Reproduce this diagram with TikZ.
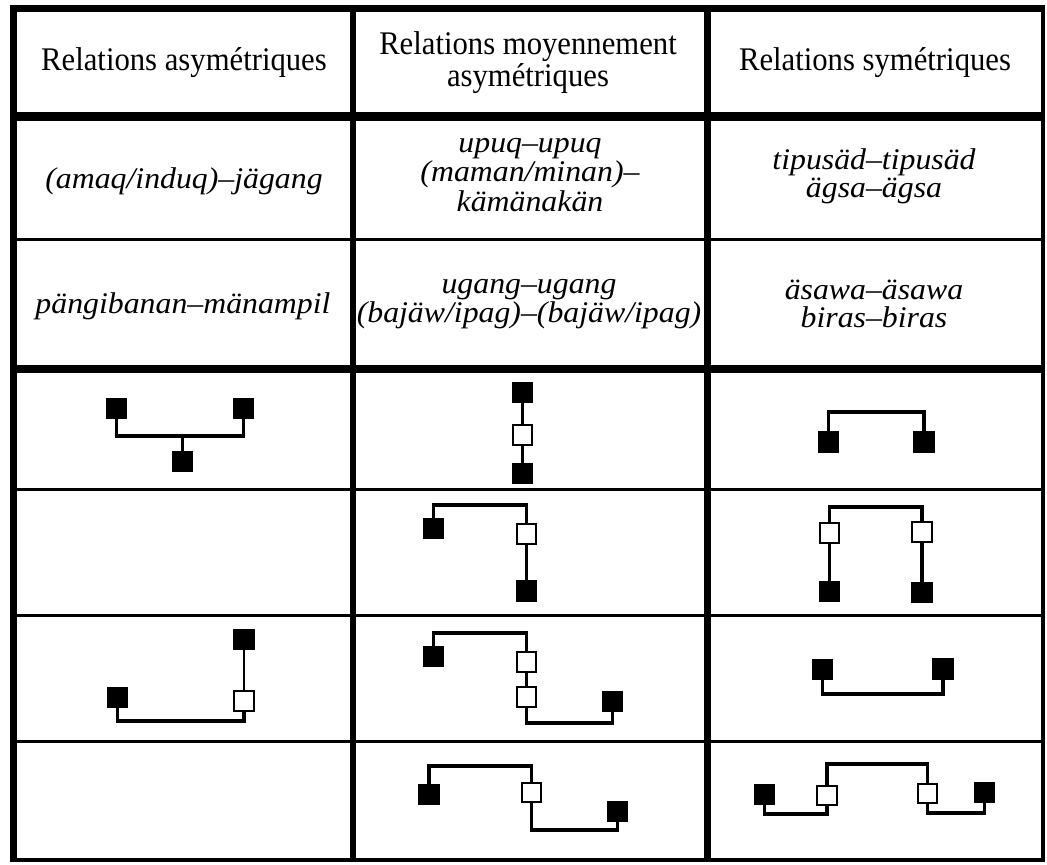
\documentclass[tikz,border=0pt]{standalone}
\usepackage{fontspec}
\setmainfont{Liberation Serif}
\newfontfamily\headfont{Liberation Serif}[FakeStretch=0.93]
\newfontfamily\termfont{Liberation Serif}[FakeStretch=1.06]
\begin{document}
\begin{tikzpicture}[x=0.5pt,y=-0.5pt,
  sq/.style={draw=black, line width=0.9pt, minimum size=9.8pt, inner sep=0pt, outer sep=0pt},
  blk/.style={sq, fill=black},
  opn/.style={sq, fill=white},
  link/.style={line width=1.9pt, line join=miter},
  rule/.style={line width=1.5pt},
  heavy/.style={line width=4.2pt},
  frame/.style={line width=3.5pt},
  head/.style={align=center, inner sep=0pt, font=\headfont\fontsize{16.5pt}{15pt}\selectfont},
  term/.style={align=center, inner sep=0pt, font=\termfont\itshape\fontsize{15pt}{12pt}\selectfont},
  termb/.style={term, font=\termfont\itshape\fontsize{15pt}{13pt}\selectfont},
]
\useasboundingbox (0,0) rectangle (1047,865);
\fill[white] (0,0) rectangle (1047,865);

% table rules
\draw[frame] (13.5,5) -- (13.5,862);
\draw[line width=3pt] (353,5) -- (353,862);
\draw[frame] (707,5) -- (707,862);
\draw[line width=2pt] (1043,5) -- (1043,862);
\draw[frame] (10,9) -- (1044,9);
\draw[line width=4.5pt] (10,117) -- (1044,117);
\draw[rule] (10,240) -- (1044,240);
\draw[heavy] (10,369) -- (1044,369);
\draw[rule] (10,489) -- (1044,489);
\draw[rule] (10,615) -- (1044,615);
\draw[rule] (10,741) -- (1044,741);
\draw[line width=2pt] (10,860) -- (1044,860);

% column headings
\node[head] (h1) at (184,63) {Relations asymétriques};
\node[head] (h2) at (528,63) {Relations moyennement\\asymétriques};
\node[head] (h3) at (875,63) {Relations symétriques};

% kinship terms
\node[term] (t11) at (184,181) {(amaq/induq)–jägang};
\node[term] (t12) at (530,175) {upuq–upuq\\(maman/minan)–\\kämänakän};
\node[term, font=\termfont\itshape\fontsize{15pt}{11.5pt}\selectfont] (t13) at (874,176) {tipusäd–tipusäd\\ägsa–ägsa};
\node[termb] (t21) at (183,306) {pängibanan–mänampil};
\node[termb] (t22) at (529,304) {ugang–ugang\\(bajäw/ipag)–(bajäw/ipag)};
\node[termb, font=\termfont\itshape\fontsize{15pt}{14pt}\selectfont] (t23) at (874,304) {äsawa–äsawa\\biras–biras};

% row 4, column 1
\node[blk] (A1) at (116.5,408.5) {};
\node[blk] (A2) at (243.5,408.5) {};
\node[blk] (A3) at (182.5,461.5) {};
\coordinate (abar) at (182.5,436);
\draw[link] (A1.south) |- (abar) -| (A2.south);
\draw[link] (abar) -- (A3.north);

% row 6, column 1
\node[blk] (B1) at (244,639.5) {};
\node[opn] (B2) at (244,701) {};
\node[blk] (B3) at (117.5,697.5) {};
\coordinate (bbar) at (180,721);
\draw[line width=1.3pt] (B1.south) -- (B2.north);
\draw[link] (B2.south) |- (bbar) -| (B3.south);

% row 4, column 2
\node[blk] (C1) at (522.5,392.5) {};
\node[opn] (C2) at (522.5,435) {};
\node[blk] (C3) at (522.5,473.5) {};
\draw[link] (C1.south) -- (C2.north);
\draw[link] (C2.south) -- (C3.north);

% row 5, column 2
\node[blk] (D1) at (433.5,528.5) {};
\node[opn] (D2) at (526.5,534) {};
\node[blk] (D3) at (526.5,591) {};
\coordinate (dbar) at (480,505);
\draw[link] (D1.north) |- (dbar) -| (D2.north);
\draw[link] (D2.south) -- (D3.north);

% row 6, column 2
\node[blk] (E1) at (433.5,656.5) {};
\node[opn] (E2) at (526.5,662) {};
\node[opn] (E3) at (526.5,697) {};
\node[blk] (E4) at (612.5,701.5) {};
\coordinate (etop) at (480,633);
\coordinate (ebot) at (570,723);
\draw[link] (E1.north) |- (etop) -| (E2.north);
\draw[link] (E2.south) -- (E3.north);
\draw[link] (E3.south) |- (ebot) -| (E4.south);

% row 7, column 2
\node[blk] (F1) at (429,794.5) {};
\node[opn] (F2) at (531.5,792.5) {};
\node[blk] (F3) at (617.5,811.5) {};
\coordinate (ftop) at (480,766);
\coordinate (fbot) at (575,830);
\draw[link] (F1.north) |- (ftop) -| (F2.north);
\draw[link] (F2.south) |- (fbot) -| (F3.south);

% row 4, column 3
\node[blk] (G1) at (828.5,442) {};
\node[blk] (G2) at (924,442) {};
\coordinate (gbar) at (876,412);
\draw[link] (G1.north) |- (gbar) -| (G2.north);

% row 5, column 3
\node[opn] (H1) at (829.5,533) {};
\node[opn] (H2) at (922,532) {};
\node[blk] (H3) at (829.5,591.5) {};
\node[blk] (H4) at (922,592.5) {};
\coordinate (hbar) at (876,507);
\draw[link] (H1.north) |- (hbar) -| (H2.north);
\draw[link] (H1.south) -- (H3.north);
\draw[link] (H2.south) -- (H4.north);

% row 6, column 3
\node[blk] (I1) at (822.5,669.5) {};
\node[blk] (I2) at (943,669) {};
\coordinate (ibar) at (883,694);
\draw[link] (I1.south) |- (ibar) -| (I2.south);

% row 7, column 3
\node[blk] (J1) at (764.5,794.5) {};
\node[opn] (J2) at (827,795.5) {};
\node[opn] (J3) at (927.5,793.5) {};
\node[blk] (J4) at (984.5,792.5) {};
\coordinate (jbl) at (796,814);
\coordinate (jtop) at (877,764);
\coordinate (jbr) at (956,813);
\draw[link] (J1.south) |- (jbl) -| (J2.south);
\draw[link] (J2.north) |- (jtop) -| (J3.north);
\draw[link] (J3.south) |- (jbr) -| (J4.south);
\end{tikzpicture}
\end{document}
